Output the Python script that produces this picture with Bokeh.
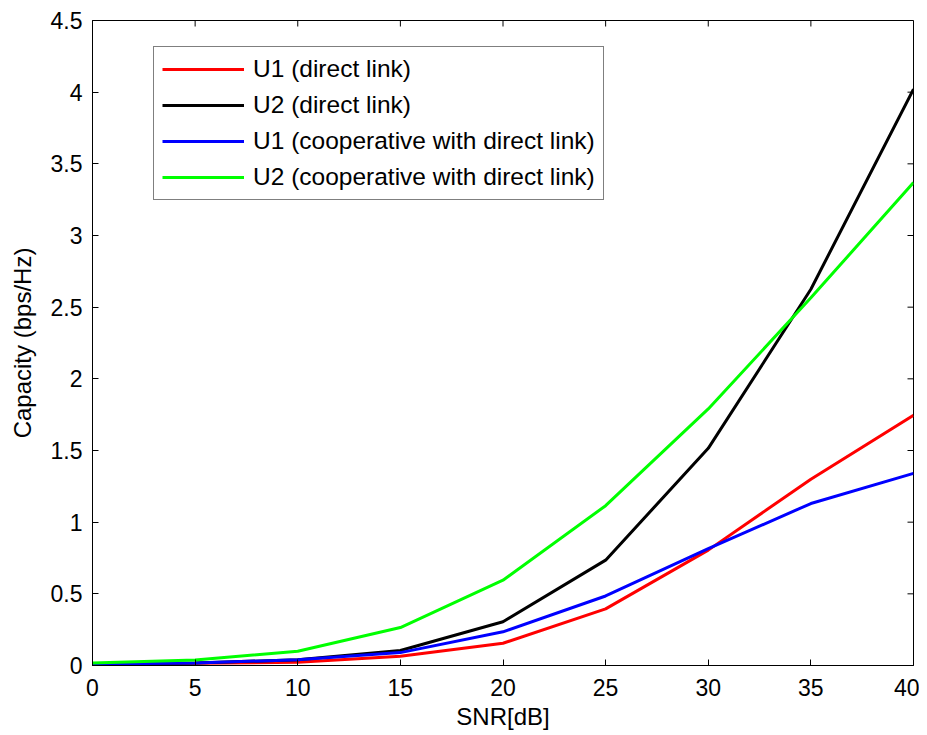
import math
from bokeh.plotting import figure
from bokeh.models import Range1d, FixedTicker, Legend, LegendItem
from bokeh.embed import file_html
from bokeh.resources import INLINE

snr = [0, 5, 10, 15, 20, 25, 30, 35, 40]
u1_direct = [0.01, 0.015, 0.023, 0.065, 0.155, 0.395, 0.805, 1.30, 1.745]
u2_direct = [0.01, 0.017, 0.04, 0.105, 0.305, 0.735, 1.515, 2.625, 4.02]
u1_coop = [0.01, 0.017, 0.04, 0.09, 0.235, 0.485, 0.815, 1.13, 1.34]
u2_coop = [0.018, 0.038, 0.10, 0.265, 0.595, 1.115, 1.79, 2.565, 3.37]

series_names = ["U1 (direct link)", "U2 (direct link)",
                "U1 (cooperative with direct link)", "U2 (cooperative with direct link)"]
series_colors = ["#ff0000", "#000000", "#0000ff", "#00ff00"]

x_ticks = [0, 5, 10, 15, 20, 25, 30, 35, 40]
y_ticks = [0, 0.5, 1, 1.5, 2, 2.5, 3, 3.5, 4, 4.5]
y_tick_labels = ["0", "0.5", "1", "1.5", "2", "2.5", "3", "3.5", "4", "4.5"]

FONT = "Liberation Sans"
TICK_FS = "23px"
LABEL_FS = "24px"
LEGEND_FS = "24.5px"

x_min, x_max = 0, 40
y_min, y_max = 0, 4.5

p = figure(width=919, height=732, output_backend="svg", toolbar_location=None,
           x_range=Range1d(x_min, x_max), y_range=Range1d(y_min, y_max),
           min_border_left=92, min_border_right=6, min_border_top=20, min_border_bottom=62)
p.background_fill_color = "white"
p.border_fill_color = "white"
p.outline_line_color = "black"
p.outline_line_width = 1
p.xgrid.visible = False
p.ygrid.visible = False

renderers = []
for ys, c in zip([u1_direct, u2_direct, u1_coop, u2_coop], series_colors):
    r = p.line(snr, ys, line_color=c, line_width=3)
    renderers.append(r)

# inward ticks on the top and right edges (box on), from the tick arrays
p.ray(x=x_ticks, y=[y_max] * len(x_ticks), length=6, length_units="screen",
      angle=-math.pi / 2, line_color="black", line_width=1)
p.ray(x=[x_max] * len(y_ticks), y=y_ticks, length=6, length_units="screen",
      angle=math.pi, line_color="black", line_width=1)

xa = p.xaxis[0]
ya = p.yaxis[0]
for ax, ticks in ((xa, x_ticks), (ya, y_ticks)):
    ax.ticker = FixedTicker(ticks=ticks)
    ax.major_tick_in = 6
    ax.major_tick_out = 0
    ax.minor_tick_line_color = None
    ax.axis_line_color = "black"
    ax.major_tick_line_color = "black"
    ax.major_label_text_font = FONT
    ax.major_label_text_font_size = TICK_FS
    ax.major_label_text_color = "black"
    ax.axis_label_text_font = FONT
    ax.axis_label_text_font_size = LABEL_FS
    ax.axis_label_text_font_style = "normal"
    ax.axis_label_text_color = "black"
ya.major_label_overrides = {t: l for t, l in zip(y_ticks, y_tick_labels)}
xa.major_label_standoff = 13
ya.major_label_standoff = 10
xa.axis_label = "SNR[dB]"
ya.axis_label = "Capacity (bps/Hz)"
xa.axis_label_standoff = 4
ya.axis_label_standoff = 12

legend = Legend(items=[LegendItem(label=n, renderers=[r]) for n, r in zip(series_names, renderers)],
                location=(61, 465))
legend.label_text_font = FONT
legend.label_text_font_size = LEGEND_FS
legend.label_text_color = "black"
legend.border_line_color = "black"
legend.border_line_width = 1
legend.background_fill_color = "white"
legend.background_fill_alpha = 1
legend.padding = 8
legend.margin = 0
legend.spacing = 8
legend.glyph_width = 82
legend.glyph_height = 28
legend.label_height = 28
legend.label_standoff = 9
p.add_layout(legend, "center")

open("out.html", "w").write(file_html(p, INLINE))
